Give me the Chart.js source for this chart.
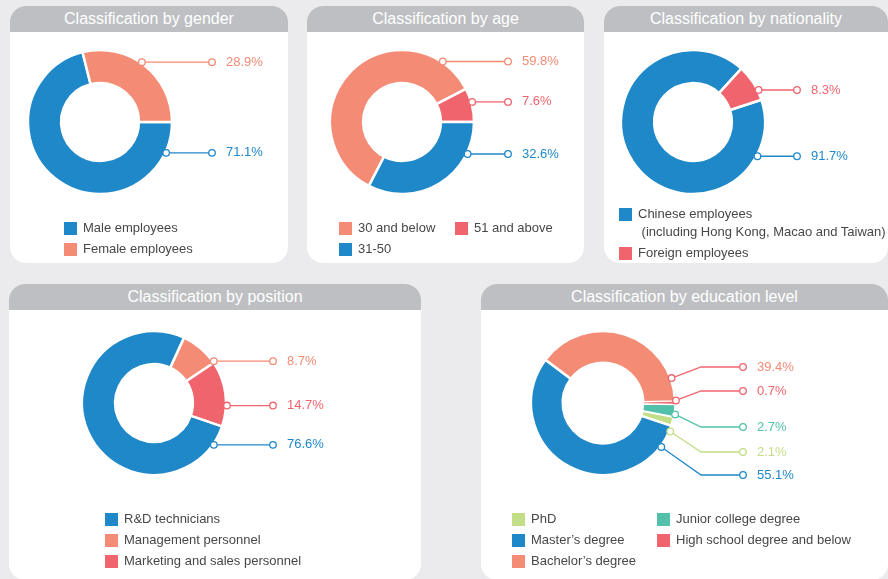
<!DOCTYPE html>
<html lang="en">
<head>
<meta charset="UTF-8">
<title>Employee structure</title>
<script src="https://cdn.jsdelivr.net/npm/chart.js@4.4.1/dist/chart.umd.min.js"></script>
<style>
  body { margin: 0; width: 888px; height: 579px; overflow: hidden; position: relative;
         background: #ebebed; font-family: "Liberation Sans", Arial, sans-serif; }
  .card { position: absolute; background: #fff; border-radius: 16px; overflow: hidden; }
  .card h2 { margin: 0; height: 26px; line-height: 26px; background: #bebfc3; color: #fff;
             font-size: 16px; font-weight: normal; text-align: center; white-space: nowrap; }
  .card canvas { position: absolute; left: 0; top: 26px; }
  .legend { position: absolute; left: 0; font-size: 13px; color: #474747; }
  .legend .col { position: absolute; top: 0; }
  .legend .item { display: flex; line-height: 18px; margin-bottom: 3px; white-space: pre; }
  .legend .sw { flex: none; width: 13px; height: 13px; margin: 2.5px 6px 0 0; }
</style>
</head>
<body>

<div class="card" id="gender" style="left:10px;top:6px;width:278px;height:257px">
  <h2>Classification by gender</h2><canvas></canvas></div>
<div class="card" id="age" style="left:307px;top:6px;width:277px;height:257px">
  <h2>Classification by age</h2><canvas></canvas></div>
<div class="card" id="nationality" style="left:604px;top:6px;width:284px;height:257px">
  <h2>Classification by nationality</h2><canvas></canvas></div>
<div class="card" id="position" style="left:9px;top:284px;width:412px;height:296px">
  <h2>Classification by position</h2><canvas></canvas></div>
<div class="card" id="education" style="left:481px;top:284px;width:407px;height:296px">
  <h2>Classification by education level</h2><canvas></canvas></div>

<script>
// shares in percent
const genderLabels = ['Male employees', 'Female employees'];
const genderShares = [71.1, 28.9];

const ageLabels = ['30 and below', '51 and above', '31-50'];
const ageShares = [59.8, 7.6, 32.6];

const nationalityLabels = ['Chinese employees\n (including Hong Kong, Macao and Taiwan)', 'Foreign employees'];
const nationalityShares = [91.7, 8.3];

const positionLabels = ['R&D technicians', 'Management personnel', 'Marketing and sales personnel'];
const positionShares = [76.6, 8.7, 14.7];

const educationLabels = ['PhD', 'Master\u2019s degree', 'Bachelor\u2019s degree', 'High school degree and below', 'Junior college degree'];
const educationShares = [2.1, 55.1, 39.4, 0.7, 2.7];

const BLUE = '#1f88c9', SALMON = '#f48b74', RED = '#f0646d', TEAL = '#52c0aa', LIME = '#c3de87';

// rotation (deg) so that slice idx begins at the given clock angle
function startAt(shares, idx, deg) {
  let before = 0;
  for (let i = 0; i < idx; i++) before += shares[i];
  return deg - before * 3.6;
}

// percentage callouts on the right-hand side of each ring
const leaders = {
  id: 'leaders',
  afterDatasetsDraw(chart, args, opts) {
    const ctx = chart.ctx;
    const ds = chart.data.datasets[0];
    ctx.save();
    ctx.lineWidth = 1.3;
    ctx.font = '13px "Liberation Sans", Arial, sans-serif';
    ctx.textBaseline = 'middle';
    chart.getDatasetMeta(0).data.forEach((arc, i) => {
      const { x, y, outerRadius } = arc.getProps(['x', 'y', 'outerRadius'], true);
      const a = opts.angles[i] * Math.PI / 180;
      const r = outerRadius + 1;
      const px = x + r * Math.sin(a), py = y - r * Math.cos(a);
      const ly = opts.rows ? y + opts.rows[i] : py;
      const ex = x + opts.reach;
      const color = ds.backgroundColor[i];
      ctx.strokeStyle = (opts.lineColors && opts.lineColors[i]) || color;
      ctx.beginPath();
      ctx.moveTo(px, py);
      if (opts.elbow) ctx.lineTo(x + opts.elbow, ly);
      ctx.lineTo(ex, ly);
      ctx.stroke();
      [[px, py], [ex, ly]].forEach(([u, v]) => {
        ctx.beginPath();
        ctx.arc(u, v, 3.3, 0, Math.PI * 2);
        ctx.fillStyle = '#fff';
        ctx.fill();
        ctx.stroke();
      });
      ctx.fillStyle = color;
      ctx.fillText(ds.data[i].toFixed(1) + '%', ex + 14, ly);
    });
    ctx.restore();
  }
};

function ring(id, cfg) {
  const card = document.getElementById(id);
  const canvas = card.querySelector('canvas');
  const W = card.offsetWidth, H = card.offsetHeight - 26;
  canvas.width = W; canvas.height = H;
  canvas.style.width = W + 'px'; canvas.style.height = H + 'px';
  const [cx, cy] = cfg.center, R = cfg.radius;

  new Chart(canvas, {
    type: 'doughnut',
    data: {
      labels: cfg.labels,
      datasets: [{
        data: cfg.shares,
        backgroundColor: cfg.colors,
        borderColor: '#fff',
        borderWidth: cfg.border || 2.5
      }]
    },
    options: {
      responsive: false,
      animation: false,
      radius: R,
      cutout: cfg.cutout || '54%',
      rotation: cfg.rotation,
      layout: { padding: { left: cx - R, right: W - cx - R, top: cy - R, bottom: H - cy - R } },
      plugins: {
        legend: { display: false },
        tooltip: { enabled: false },
        leaders: cfg.leaders
      }
    },
    plugins: [leaders]
  });

  // legend, filled column by column
  const legend = document.createElement('div');
  legend.className = 'legend';
  legend.style.top = cfg.legend.top + 'px';
  const order = cfg.legend.order || cfg.labels.map((_, i) => i);
  cfg.legend.cols.forEach((left, c) => {
    const col = document.createElement('div');
    col.className = 'col';
    col.style.left = left + 'px';
    order.slice(c * cfg.legend.rows, (c + 1) * cfg.legend.rows).forEach(i => {
      const item = document.createElement('div');
      item.className = 'item';
      const sw = document.createElement('span');
      sw.className = 'sw';
      sw.style.background = cfg.colors[i];
      const txt = document.createElement('span');
      txt.textContent = cfg.labels[i];
      item.append(sw, txt);
      col.appendChild(item);
    });
    legend.appendChild(col);
  });
  card.appendChild(legend);
}

ring('gender', {
  labels: genderLabels, shares: genderShares, colors: [BLUE, SALMON],
  center: [90, 90], radius: 72, rotation: 90,
  leaders: { angles: [115, 35], reach: 112 },
  legend: { cols: [54], rows: 2, top: 213 }
});

ring('age', {
  labels: ageLabels, shares: ageShares, colors: [SALMON, RED, BLUE],
  center: [95, 90], radius: 72, rotation: startAt(ageShares, 2, 90),
  leaders: { angles: [34, 74, 116], reach: 106 },
  legend: { cols: [32, 148], rows: 2, top: 213, order: [0, 2, 1] }
});

ring('nationality', {
  labels: nationalityLabels, shares: nationalityShares, colors: [BLUE, RED],
  center: [89, 90], radius: 72, rotation: 72,
  leaders: { angles: [118, 64], reach: 104 },
  legend: { cols: [15], rows: 2, top: 199 }
});

ring('position', {
  labels: positionLabels, shares: positionShares, colors: [BLUE, SALMON, RED],
  center: [145, 93], radius: 72, rotation: 109,
  leaders: { angles: [125, 55, 92], reach: 119 },
  legend: { cols: [96], rows: 3, top: 226 }
});

// the thin high-school slice keeps a narrower white edge so it stays visible
ring('education', {
  labels: educationLabels, shares: educationShares, colors: [LIME, BLUE, SALMON, RED, TEAL],
  center: [122, 93], radius: 72, rotation: startAt(educationShares, 0, 101), cutout: '56%',
  border: [2.5, 2.5, 2.5, 0.6, 1.5],
  leaders: { angles: [113, 127, 70, 88, 99], rows: [49, 72, -36, -12, 24], reach: 140, elbow: 98,
             lineColors: [null, null, RED] },
  legend: { cols: [31, 176], rows: 3, top: 226, order: [0, 1, 2, 4, 3] }
});
</script>
</body>
</html>
